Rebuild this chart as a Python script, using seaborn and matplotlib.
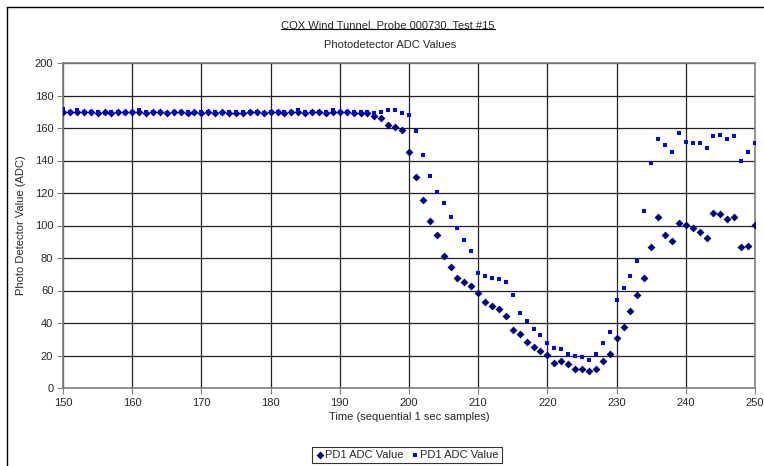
import numpy as np
import pandas as pd
import matplotlib
matplotlib.use('Agg')
import matplotlib.pyplot as plt
import seaborn as sns
from matplotlib.lines import Line2D

# tempo (amostras sequenciais de 1 s)
tempo = list(range(150, 251))

# PD1 ADC Value - losangos escuros
pd1_a = [170, 170, 170, 170, 170, 169, 170, 169, 170, 170,
         170, 170, 169, 170, 170, 169, 170, 170, 169, 170,
         169, 170, 169, 170, 169, 169, 169, 170, 170, 169,
         170, 170, 169, 170, 170, 169, 170, 170, 169, 170,
         170, 170, 169, 169, 169, 167.5, 166, 162, 160.5, 159,
         145, 130, 115.5, 103, 94, 81, 74.5, 67.5, 65.5, 62.5,
         58.5, 53, 50.5, 48.5, 44.5, 36, 33, 28.5, 25.5, 22.5,
         20.5, 15.5, 16.5, 14.5, 12, 12, 10.5, 12, 16.5, 21,
         31, 37.5, 47.5, 57, 67.5, 87, 105.5, 94, 90.5, 101.5,
         100.5, 98.5, 96, 92.5, 107.5, 107, 104, 105, 87, 87.5, 100.5]

# PD1 ADC Value - quadrados azuis
pd1_b = [172, 170, 171, 170, 170, 170, 169, 170, 170, 169,
         170, 171, 170, 170, 170, 169, 170, 170, 170, 169,
         170, 170, 170, 169, 170, 170, 170, 170, 170, 169,
         170, 170, 170, 170, 171, 170, 170, 170, 170, 171,
         170, 170, 170, 170, 170, 169, 170, 171, 171, 169,
         168, 158, 143.5, 130.5, 120.5, 114, 105, 98.5, 91, 84.5,
         70.5, 69, 68, 67, 65, 57, 46, 41, 36.5, 32.5,
         28, 24.5, 24, 21, 20, 19, 17, 21, 28, 34.5,
         54, 61.5, 69, 78, 109, 138.5, 153, 149.5, 145, 157,
         151.5, 151, 151, 148, 155, 156, 153, 155, 140, 145, 151]

df = pd.DataFrame({'tempo': tempo, 'a': pd1_a, 'b': pd1_b})

sns.set_style('white')
plt.rcParams['font.family'] = ['Liberation Sans', 'DejaVu Sans']

fig = plt.figure(figsize=(7.64, 4.66), dpi=100)
ax = fig.add_axes([63/764, 1 - 388/466, 692/764, 325/466])

sns.scatterplot(data=df, x='tempo', y='a', ax=ax, marker='D', s=16,
                color='#000080', edgecolor='#000080', linewidth=0,
                label='PD1 ADC Value', zorder=3)
sns.scatterplot(data=df, x='tempo', y='b', ax=ax, marker='s', s=9,
                color='#0000FF', edgecolor='#0000FF', linewidth=0,
                label='PD1 ADC Value', zorder=3)

ax.set_xlim(150, 250)
ax.set_ylim(0, 200)
ax.set_xticks(range(150, 251, 10))
ax.set_yticks(range(0, 201, 20))
ax.grid(True, color='#202020', linewidth=0.9)
ax.set_axisbelow(True)
for s in ax.spines.values():
    s.set_color('#808080')
    s.set_linewidth(1.2)
ax.tick_params(axis='both', labelsize=8, length=4, color='#808080',
               direction='out', pad=3, bottom=True, left=True)

ax.set_xlabel('Time (sequential 1 sec samples)', fontsize=8, labelpad=3)
ax.set_ylabel('Photo Detector Value (ADC)', fontsize=8, labelpad=6)

# títulos
t1 = fig.text(388/764, 1 - 25/466, 'COX Wind Tunnel, Probe 000730, Test #15',
              ha='center', va='center', fontsize=8)
fig.text(390/764, 1 - 45/466, 'Photodetector ADC Values',
         ha='center', va='center', fontsize=8)

# sublinhado do título
fig.canvas.draw()
bb = t1.get_window_extent().transformed(fig.transFigure.inverted())
fig.add_artist(Line2D([bb.x0, bb.x1], [bb.y0 + 0.002, bb.y0 + 0.002],
                      transform=fig.transFigure, color='black', linewidth=0.8))

# moldura externa
fig.add_artist(Line2D([7/764, 7/764], [0, 1 - 7/466], transform=fig.transFigure,
                      color='black', linewidth=1))
fig.add_artist(Line2D([7/764, 1], [1 - 7/466, 1 - 7/466], transform=fig.transFigure,
                      color='black', linewidth=1))

leg = ax.legend(loc='center', bbox_to_anchor=(407/764, 1 - 455/466),
                bbox_transform=fig.transFigure, ncol=2, fontsize=8,
                frameon=True, fancybox=False, handletextpad=0.1,
                columnspacing=0.6, handlelength=0.8, borderpad=0.3,
                markerscale=1.0)
leg.get_frame().set_edgecolor('black')
leg.get_frame().set_linewidth(0.8)

fig.savefig('out.png', dpi=100)
